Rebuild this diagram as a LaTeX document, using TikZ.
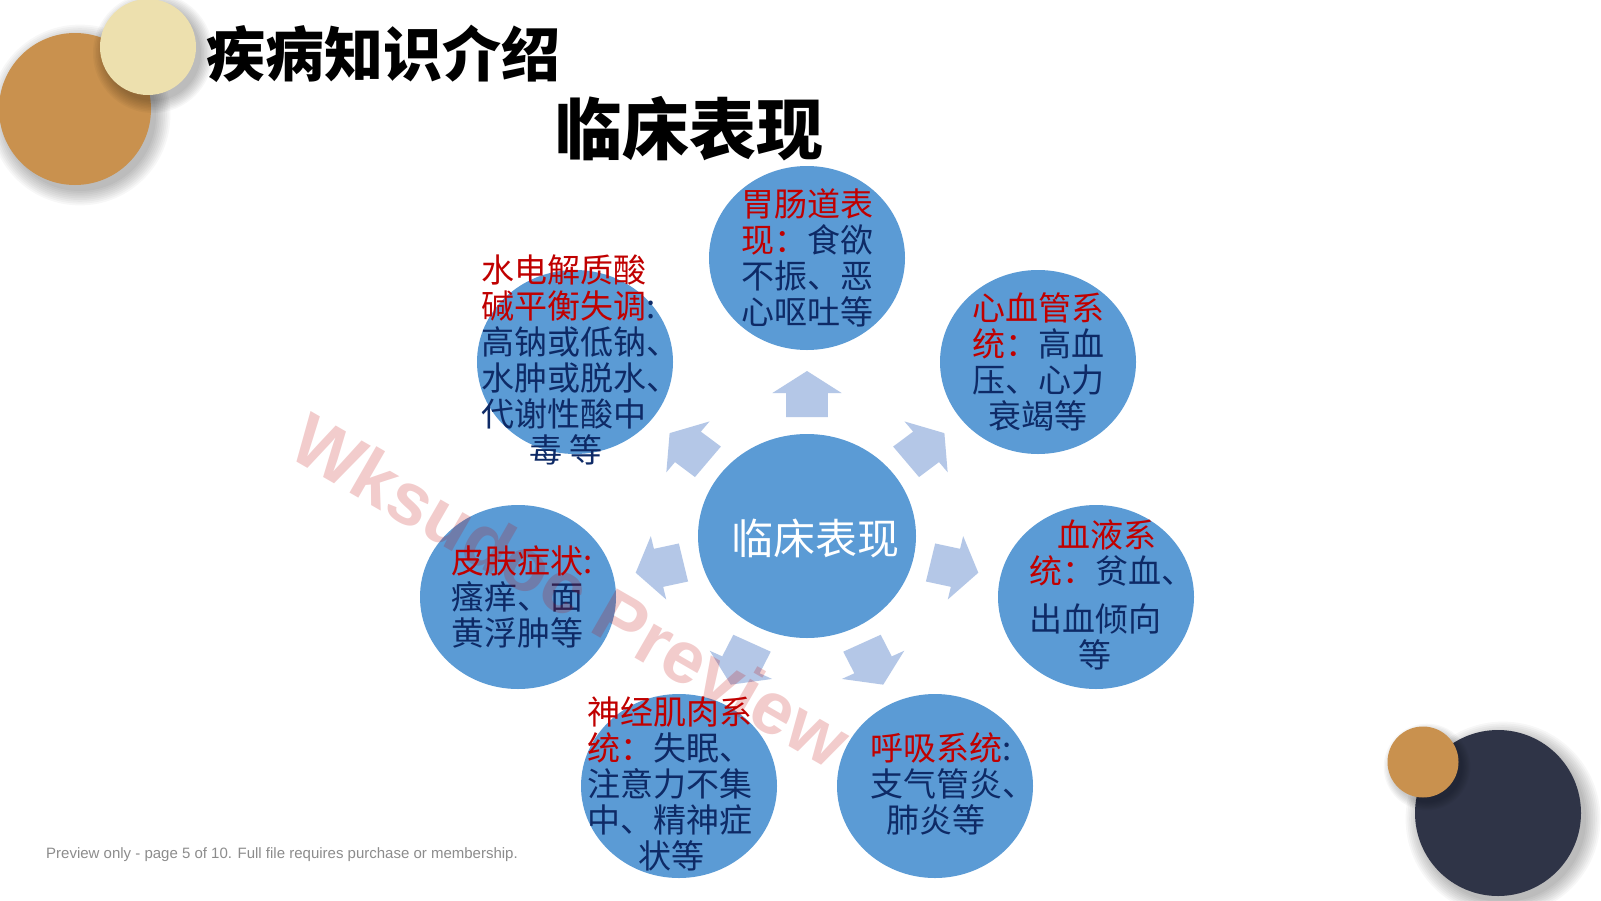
\documentclass[tikz,border=0pt]{standalone}
\usepackage{fontspec}
\setmainfont{Liberation Sans}
\newfontfamily\cjk{Noto Sans CJK SC}
\usetikzlibrary{shapes.geometric}
\definecolor{bub}{HTML}{5B9BD5}
\definecolor{arw}{HTML}{B4C7E7}
\definecolor{tred}{HTML}{C00000}
\definecolor{tnavy}{HTML}{0E2A66}
\definecolor{gold}{HTML}{C9914E}
\definecolor{cream}{HTML}{EDE0AE}
\definecolor{darkball}{HTML}{2F3447}
\definecolor{footgray}{HTML}{8C8C8C}
\tikzset{
  bubble/.style={ellipse, fill=bub, minimum width=196pt, minimum height=184pt, inner sep=0pt},
  hub/.style={ellipse, fill=bub, minimum width=218pt, minimum height=204pt, inner sep=0pt},
  body/.style={font=\cjk\fontsize{33}{36}\selectfont, text=tnavy, inner sep=0pt},
  blockarrow/.style={fill=arw},
  softshadow/.style={fill=black, opacity=0.03},
}
\newcommand{\rd}[1]{\textcolor{tred}{#1}}
\begin{document}
\begin{tikzpicture}[x=1pt,y=-1pt]
\useasboundingbox (0,0) rectangle (1601,900);
\fill[white] (0,0) rectangle (1601,900);

% decorative circles top-left
\foreach \k in {0,...,8} \fill[softshadow] (80,115) circle ({76pt+\k*1.8pt});
\fill[gold] (75,109) circle (76pt);
\foreach \k in {0,...,8} \fill[softshadow] (153,53) circle ({48pt+\k*1.5pt});
\fill[cream] (148,47) circle (48pt);

% decorative circles bottom-right
\foreach \k in {0,...,8} \fill[softshadow] (1503,819) circle ({83pt+\k*1.8pt});
\fill[darkball] (1498,813) circle (83pt);
\foreach \k in {0,...,6} \fill[softshadow] (1427,767) circle ({35.5pt+\k*1.3pt});
\fill[gold] (1423,762) circle (35.5pt);

% titles
\node[font=\cjk\bfseries\fontsize{59}{60}\selectfont, anchor=west, inner sep=0pt] (title) at (206,54) {疾病知识介绍};
\node[font=\cjk\bfseries\fontsize{67}{68}\selectfont, inner sep=0pt] (subtitle) at (689,129) {临床表现};

% block arrows
\foreach \a in {90,38.57,-12.86,-64.29,-115.71,-167.14,141.43} {
  \begin{scope}[shift={(807,536)}, xscale=1.065, rotate=\a]
    \fill[blockarrow] (119,-19.5) -- (143,-19.5) -- (143,-32.5) -- (165,0) -- (143,32.5) -- (143,19.5) -- (119,19.5) -- cycle;
  \end{scope}
}

% hub and bubbles
\node[hub] (c0) at (807,536) {};
\node[font=\cjk\fontsize{42}{44}\selectfont, text=white, inner sep=0pt] (hubtext) at (815,538) {临床表现};

\node[bubble] (c1) at (807,258) {};
\node[bubble] (c2) at (1038,362) {};
\node[bubble] (c3) at (1096,597) {};
\node[bubble] (c4) at (935,786) {};
\node[bubble] (c5) at (679,786) {};
\node[bubble] (c6) at (518,597) {};
\node[bubble] (c7) at (575,362) {};

\node[body, align=left] (t1) at (c1.center) {\rd{胃肠道表}\\\rd{现：}食欲\\不振、恶\\心呕吐等};
\node[body, align=center] (t2) at (c2.center) {\rd{心血管系}\\\rd{统：}高血\\压、心力\\衰竭等};
\node[body, align=left, anchor=west] (t3) at (1029,595) {\hspace*{28pt}\rd{血液系}\\\rd{统：}贫血、\\[12pt]出血倾向\\\hspace*{49pt}等};
\node[body, align=left, anchor=west] (t4) at (870,784) {\rd{呼吸系统}:\\支气管炎、\\\hspace*{16pt}肺炎等};
\node[body, align=left, anchor=west] (t5) at (587,784) {\rd{神经肌肉系}\\\rd{统：}失眠、\\注意力不集\\中、精神症\\\hspace*{51pt}状等};
\node[body, align=left, anchor=west] (t6) at (451,597) {\rd{皮肤症状:}\\瘙痒、面\\黄浮肿等};
\node[body, align=left, anchor=west] (t7) at (481,360) {\rd{水电解质酸}\\\rd{碱平衡失调}:\\高钠或低钠、\\水肿或脱水、\\代谢性酸中\\\hspace*{48pt}毒 等};

% watermark
\node[rotate=-30, text=tred, opacity=0.2, font=\bfseries\fontsize{74}{78}\selectfont, inner sep=0pt] (wm) at (571,590) {Wksudoc Preview};

% footer
\node[anchor=west, inner sep=0pt, text=footgray, font=\fontsize{15}{17}\selectfont] (foot) at (46,855) {Preview only - page 5 of 10. Full file requires purchase or membership.};
\end{tikzpicture}
\end{document}
